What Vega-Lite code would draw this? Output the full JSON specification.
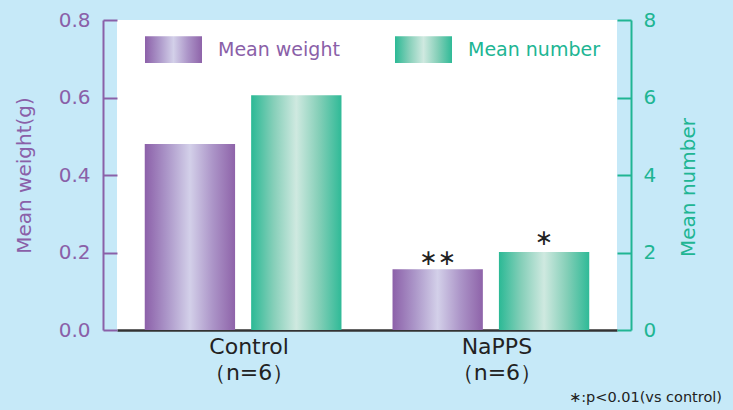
{
  "$schema": "https://vega.github.io/schema/vega-lite/v6.json",
  "width": 500,
  "height": 310,
  "autosize": "none",
  "padding": {"left": 117, "top": 20, "right": 116, "bottom": 80},
  "background": "#c6e9f8",
  "config": {
    "view": {"fill": "white", "stroke": null},
    "font": "DejaVu Sans",
    "text": {"font": "DejaVu Sans"}
  },
  "title": {
    "text": "∗:p<0.01(vs control)",
    "orient": "bottom",
    "anchor": "end",
    "frame": "group",
    "align": "right",
    "dx": 105,
    "offset": 8,
    "fontSize": 14.5,
    "fontWeight": "normal",
    "color": "#222222",
    "font": "DejaVu Sans"
  },
  "data": {
    "values": [
      {"group": "Control", "series": "Mean weight", "value": 0.48, "sig": ""},
      {"group": "Control", "series": "Mean number", "value": 6.06, "sig": ""},
      {"group": "NaPPS", "series": "Mean weight", "value": 0.157, "sig": "∗∗"},
      {"group": "NaPPS", "series": "Mean number", "value": 2.01, "sig": "∗"}
    ]
  },
  "encoding": {
    "x": {
      "field": "group",
      "type": "nominal",
      "sort": ["Control", "NaPPS"],
      "scale": {"paddingInner": 0.206, "paddingOuter": 0.112},
      "axis": {
        "title": null,
        "labelAngle": 0,
        "ticks": false,
        "domainColor": "#333333",
        "domainWidth": 2.5,
        "labelColor": "#222222",
        "labelFontSize": 22,
        "labelPadding": 6,
        "labelOffset": 6,
        "labelLineHeight": 26,
        "labelBaseline": "top",
        "labelExpr": "[datum.label, '（n=6）']"
      }
    },
    "xOffset": {
      "field": "series",
      "type": "nominal",
      "sort": ["Mean weight", "Mean number"],
      "scale": {"paddingInner": 0.151, "paddingOuter": 0}
    }
  },
  "layer": [
    {
      "transform": [{"filter": "datum.series === 'Mean weight'"}],
      "encoding": {
        "y": {
          "field": "value",
          "type": "quantitative",
          "scale": {"domain": [0, 0.8], "nice": false},
          "axis": {
            "orient": "left",
            "values": [0, 0.2, 0.4, 0.6, 0.8],
            "format": ".1f",
            "offset": 14,
            "tickSize": -14,
            "tickWidth": 2,
            "tickColor": "#8a60a8",
            "domainColor": "#8a60a8",
            "domainWidth": 2,
            "labelColor": "#8a60a8",
            "labelFontSize": 20,
            "labelPadding": 27,
            "grid": false,
            "title": "Mean weight(g)",
            "titleColor": "#8a60a8",
            "titleFontSize": 20,
            "titleFontWeight": "normal",
            "titlePadding": 24
          }
        }
      },
      "layer": [
        {
          "mark": {
            "type": "bar",
            "strokeWidth": 0,
            "color": {"gradient": "linear", "x1": 0, "x2": 1, "y1": 0, "y2": 0, "stops": [
              {"offset": 0, "color": "#8c60a9"},
              {"offset": 0.25, "color": "#ac97c9"},
              {"offset": 0.5, "color": "#d3d0e9"},
              {"offset": 0.75, "color": "#ac95c8"},
              {"offset": 1, "color": "#8e63a9"}
            ]}
          },
          "encoding": {}
        },
        {
          "mark": {"type": "rule", "strokeOpacity": 0, "strokeWidth": 0},
          "encoding": {
            "stroke": {
              "field": "series",
              "type": "nominal",
              "scale": {
                "domain": ["Mean weight", "Mean number"],
                "range": ["#8a60a8", "#20b593"]
              },
              "legend": {
                "title": null,
                "orient": "none",
                "legendX": 28,
                "legendY": 1,
                "direction": "horizontal",
                "padding": 0,
                "symbolType": "M-1,-0.47H1V0.47H-1Z",
                "symbolSize": 3249,
                "symbolStrokeWidth": 0,
                "symbolOpacity": 1,
                "symbolFillColor": {"expr": "datum.value === 'Mean number' ? {gradient: 'linear', x1: 0, x2: 1, y1: 0, y2: 0, stops: [{offset: 0, color: '#2bb995'}, {offset: 0.25, color: '#86cfb9'}, {offset: 0.5, color: '#cfe9e0'}, {offset: 0.75, color: '#85cfb8'}, {offset: 1, color: '#2fba97'}]} : {gradient: 'linear', x1: 0, x2: 1, y1: 0, y2: 0, stops: [{offset: 0, color: '#8c60a9'}, {offset: 0.25, color: '#ac97c9'}, {offset: 0.5, color: '#d3d0e9'}, {offset: 0.75, color: '#ac95c8'}, {offset: 1, color: '#8e63a9'}]}"},
                "labelColor": {"expr": "datum.value === 'Mean number' ? '#20b593' : '#8a60a8'"},
                "labelFontSize": 19,
                "labelOffset": 16,
                "columnPadding": 55,
                "labelLimit": 300
              }
            }
          }
        },
        {
          "mark": {"type": "text", "baseline": "middle", "dy": -11, "fontSize": 22, "color": "#222222"},
          "encoding": {"text": {"field": "sig"}}
        }
      ]
    },
    {
      "transform": [{"filter": "datum.series === 'Mean number'"}],
      "encoding": {
        "y": {
          "field": "value",
          "type": "quantitative",
          "scale": {"domain": [0, 8], "nice": false},
          "axis": {
            "orient": "right",
            "values": [0, 2, 4, 6, 8],
            "format": "d",
            "offset": 14,
            "tickSize": -14,
            "tickWidth": 2,
            "tickColor": "#20b593",
            "domainColor": "#20b593",
            "domainWidth": 2,
            "labelColor": "#20b593",
            "labelFontSize": 20,
            "labelPadding": 26,
            "grid": false,
            "title": "Mean number",
            "titleColor": "#20b593",
            "titleFontSize": 20,
            "titleFontWeight": "normal",
            "titleAngle": -90,
            "titleBaseline": "top",
            "titleY": 167,
            "titlePadding": 23
          }
        }
      },
      "layer": [
        {
          "mark": {
            "type": "bar",
            "strokeWidth": 0,
            "color": {"gradient": "linear", "x1": 0, "x2": 1, "y1": 0, "y2": 0, "stops": [
              {"offset": 0, "color": "#2bb995"},
              {"offset": 0.25, "color": "#86cfb9"},
              {"offset": 0.5, "color": "#cfe9e0"},
              {"offset": 0.75, "color": "#85cfb8"},
              {"offset": 1, "color": "#2fba97"}
            ]}
          },
          "encoding": {}
        },
        {
          "mark": {"type": "text", "baseline": "middle", "dy": -14, "fontSize": 22, "color": "#222222"},
          "encoding": {"text": {"field": "sig"}}
        }
      ]
    }
  ],
  "resolve": {"scale": {"y": "independent"}}
}
